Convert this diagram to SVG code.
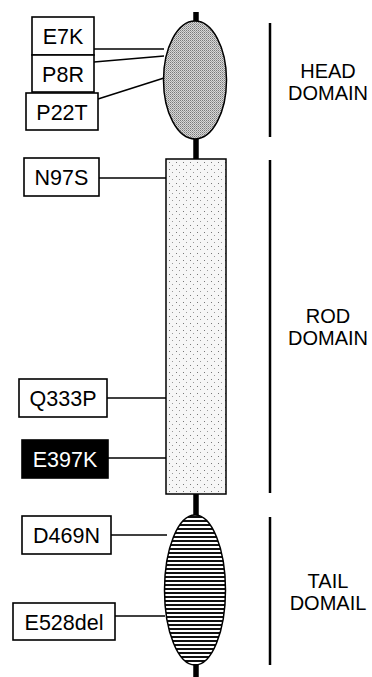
<svg xmlns="http://www.w3.org/2000/svg" width="372" height="677" viewBox="0 0 372 677">
<defs>
<pattern id="pHead" width="2" height="2" patternUnits="userSpaceOnUse">
<rect width="2" height="2" fill="#d8d8d8"/>
<rect width="1" height="1" fill="#7a7a7a"/>
<rect x="1" y="1" width="1" height="1" fill="#a0a0a0"/>
</pattern>
<pattern id="pRod" width="7" height="7" patternUnits="userSpaceOnUse">
<rect width="7" height="7" fill="#f6f6f6"/>
<rect x="1" y="1" width="1" height="1" fill="#777"/>
<rect x="4" y="4" width="1" height="1" fill="#999"/>
</pattern>
<pattern id="pTail" width="4" height="4" patternUnits="userSpaceOnUse">
<rect width="4" height="4" fill="#fff"/>
<rect width="4" height="2" fill="#111"/>
</pattern>
</defs>
<style>
.box{fill:#fff;stroke:#000;stroke-width:1.6}
.dark{fill:#000;stroke:#000;stroke-width:1.6}
.lbl{font-family:"Liberation Sans",Arial,sans-serif;font-size:21.5px;text-anchor:middle;fill:#000}
.lblw{font-family:"Liberation Sans",Arial,sans-serif;font-size:21.5px;text-anchor:middle;fill:#fff}
.dom{font-family:"Liberation Sans",Arial,sans-serif;font-size:20px;text-anchor:middle;fill:#000}
.con{stroke:#000;stroke-width:1.5;fill:none}
.bar{stroke:#000;stroke-width:2.5}
.shape{stroke:#000;stroke-width:1.5}
</style>
<g id="spine"><line x1="196" y1="12" x2="196" y2="677" stroke="#000" stroke-width="5.5"/></g>
<g id="head-domain"><ellipse class="shape" cx="195" cy="80" rx="31.5" ry="59" fill="url(#pHead)"/></g>
<g id="rod-domain"><rect class="shape" x="166" y="159" width="60" height="335" fill="url(#pRod)"/></g>
<g id="tail-domain"><ellipse class="shape" cx="195" cy="590" rx="30.5" ry="75" fill="url(#pTail)"/></g>
<g id="connectors">
<line class="con" x1="94" y1="49" x2="164" y2="49" stroke-width="2"/>
<line class="con" x1="94" y1="62" x2="164" y2="56"/>
<line class="con" x1="98" y1="99" x2="164" y2="78"/>
<line class="con" x1="99" y1="178" x2="166" y2="178"/>
<line class="con" x1="107" y1="398" x2="166" y2="398"/>
<line class="con" x1="108" y1="458" x2="166" y2="458"/>
<line class="con" x1="111" y1="535" x2="167" y2="535"/>
<line class="con" x1="115" y1="616" x2="165" y2="616"/>
</g>
<g id="E7K"><rect class="box" x="32" y="17" width="62" height="38"/><text class="lbl" x="63" y="44">E7K</text></g>
<g id="P8R"><rect class="box" x="32" y="55" width="62" height="37"/><text class="lbl" x="63" y="81.5">P8R</text></g>
<g id="P22T"><rect class="box" x="26" y="93" width="72" height="37"/><text class="lbl" x="62" y="119.5">P22T</text></g>
<g id="N97S"><rect class="box" x="24" y="158" width="75" height="38"/><text class="lbl" x="61.5" y="185">N97S</text></g>
<g id="Q333P"><rect class="box" x="19" y="379" width="88" height="38"/><text class="lbl" x="63" y="406">Q333P</text></g>
<g id="E397K"><rect class="dark" x="22" y="440" width="86" height="38"/><text class="lblw" x="65" y="467">E397K</text></g>
<g id="D469N"><rect class="box" x="22" y="516" width="89" height="38"/><text class="lbl" x="66.5" y="543">D469N</text></g>
<g id="E528del"><rect class="box" x="13" y="603" width="102" height="37"/><text class="lbl" x="64" y="629.5">E528del</text></g>
<g id="head-label"><line class="bar" x1="270" y1="23" x2="270" y2="137"/><text class="dom" x="328" y="78">HEAD</text><text class="dom" x="328" y="100">DOMAIN</text></g>
<g id="rod-label"><line class="bar" x1="270" y1="160" x2="270" y2="493"/><text class="dom" x="328" y="323">ROD</text><text class="dom" x="328" y="345">DOMAIN</text></g>
<g id="tail-label"><line class="bar" x1="270" y1="517" x2="270" y2="665"/><text class="dom" x="328" y="588">TAIL</text><text class="dom" x="328" y="610">DOMAIL</text></g>
</svg>
